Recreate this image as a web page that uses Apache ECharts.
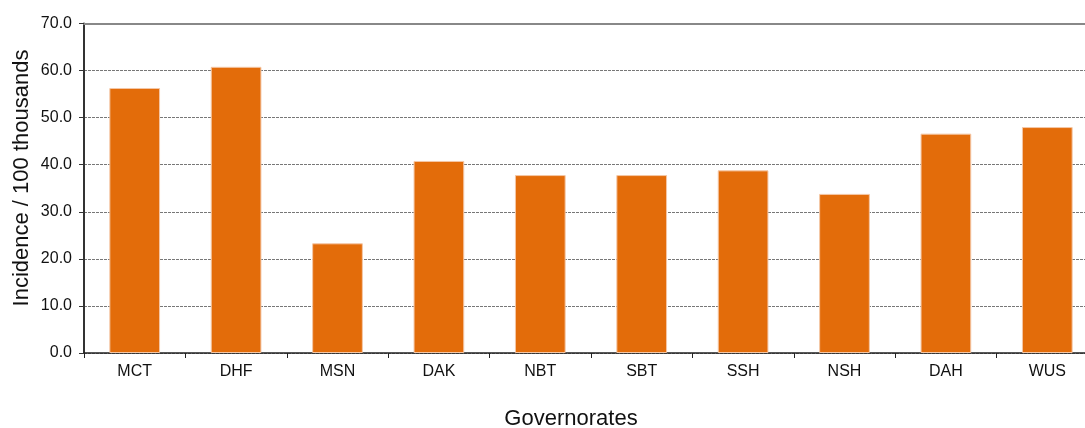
<!DOCTYPE html>
<html><head><meta charset="utf-8">
<script src="https://cdn.jsdelivr.net/npm/echarts@6/dist/echarts.min.js"></script>
<style>html,body{margin:0;padding:0;background:#fff}#c{width:1085px;height:428px}</style>
</head><body><div id="c"></div>
<script>
const categories = ["MCT","DHF","MSN","DAK","NBT","SBT","SSH","NSH","DAH","WUS"];
const incidence = [56.3, 60.8, 23.3, 40.8, 37.8, 37.8, 38.8, 33.8, 46.6, 48.0];
const yTicks = {min: 0, max: 70, interval: 10};
const yTitle = 'Incidence / 100 thousands';
const xTitle = 'Governorates';

const FONT = 'Liberation Sans, Arial, sans-serif';
const chart = echarts.init(document.getElementById('c'));
chart.setOption({
  animation: false,
  backgroundColor: '#fff',
  grid: {left: 84, right: -13, top: 23.5, bottom: 75, containLabel: false, outerBoundsMode: 'none'},
  xAxis: [{
    type: 'category', data: categories,
    axisLine: {show: true, lineStyle: {color: '#222', width: 1.5}},
    axisTick: {show: true, alignWithLabel: false, length: 5, lineStyle: {color: '#222'}},
    axisLabel: {color: '#111', fontSize: 16, fontFamily: FONT, margin: 11}
  },{
    type: 'category', data: categories, position: 'top',
    axisLine: {show: true, lineStyle: {color: '#888', width: 2}},
    axisTick: {show: false}, axisLabel: {show: false}
  }],
  yAxis: {
    type: 'value', min: yTicks.min, max: yTicks.max, interval: yTicks.interval,
    axisLine: {show: true, lineStyle: {color: '#333', width: 2}},
    axisTick: {show: true, length: 5, lineStyle: {color: '#333'}},
    axisLabel: {color: '#111', fontSize: 16, fontFamily: FONT, margin: 12,
      formatter: v => v.toFixed(1)},
    splitLine: {show: true, lineStyle: {color: '#777', type: [3, 1], width: 1}}
  },
  graphic: [{
    type: 'text', x: 22, y: 178, rotation: Math.PI / 2,
    style: {text: yTitle, fill: '#111', fontSize: 22, fontFamily: FONT, align: 'center', verticalAlign: 'middle'}
  },{
    type: 'text', x: 571, y: 419,
    style: {text: xTitle, fill: '#111', fontSize: 22, fontFamily: FONT, align: 'center', verticalAlign: 'middle'}
  }],
  series: [{
    type: 'bar', data: incidence, barWidth: '50%', xAxisIndex: 0,
    itemStyle: {color: '#E36C0A', borderColor: '#F4C7A6', borderWidth: 1}
  }]
});
</script></body></html>
